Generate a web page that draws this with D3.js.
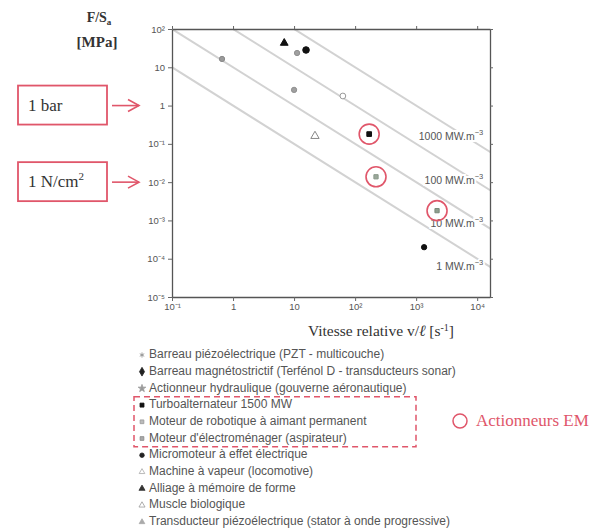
<!DOCTYPE html>
<html><head><meta charset="utf-8">
<script src="https://cdn.jsdelivr.net/npm/d3@7"></script>
<style>body{margin:0;background:#fff}svg{display:block}</style>
</head><body><svg id="c" width="602" height="529"></svg>
<script>
// ---- data ----
const categories = [
  "Barreau piézoélectrique (PZT - multicouche)",
  "Barreau magnétostrictif (Terfénol D - transducteurs sonar)",
  "Actionneur hydraulique (gouverne aéronautique)",
  "Turboalternateur 1500 MW",
  "Moteur de robotique à aimant permanent",
  "Moteur d'électroménager (aspirateur)",
  "Micromoteur à effet électrique",
  "Machine à vapeur (locomotive)",
  "Alliage à mémoire de forme",
  "Muscle biologique",
  "Transducteur piézoélectrique (stator à onde progressive)"
];
const speeds   = [0.66, 15.7, 11.2, 170, 220, 2200, 1350, 63, 6.9, 22, 10];
const stresses = [16.5, 28.3, 23.6, 0.18, 0.0138, 0.0018, 0.0002, 1.78, 43, 0.16, 2.57];
const emActuators = [3, 4, 5];
const powerLines = [1, 10, 100, 1000];
const powerLabels = ["1 MW.m", "10 MW.m", "100 MW.m", "1000 MW.m"];
const powerLabelSpeed = [12600, 12600, 12600, 12600];
const powerLabelStress = [6.2e-5, 8.1e-4, 0.0107, 0.15];
const xTicks = [0.1, 1, 10, 100, 1000, 10000];
const xTickLabels = ["10⁻¹", "1", "10", "10²", "10³", "10⁴"];
const yTicks = [100, 10, 1, 0.1, 0.01, 0.001, 1e-4, 1e-5];
const yTickLabels = ["10²", "10", "1", "10⁻¹", "10⁻²", "10⁻³", "10⁻⁴", "10⁻⁵"];
const yMarks = ["1 bar", "1 N/cm"];
const yMarkValues = [1, 0.01];

// ---- styles ----
const RED = "#e0566a";
const markerStyles = [
  {type: d3.symbolCircle, size: 22, fill: "#9a9a9a", stroke: "#8a8a8a"},
  {type: d3.symbolCircle, size: 34, fill: "#111", stroke: "#111"},
  {type: d3.symbolCircle, size: 22, fill: "#a0a0a0", stroke: "#909090"},
  {type: d3.symbolSquare, size: 22, fill: "#111", stroke: "#111"},
  {type: d3.symbolSquare, size: 18, fill: "#9aa79a", stroke: "#8a9a8a"},
  {type: d3.symbolSquare, size: 18, fill: "#8f9f8f", stroke: "#7a8a7a"},
  {type: d3.symbolCircle, size: 22, fill: "#111", stroke: "#111"},
  {type: d3.symbolCircle, size: 26, fill: "#fff", stroke: "#999"},
  {type: d3.symbolTriangle, size: 26, fill: "#111", stroke: "#111"},
  {type: d3.symbolTriangle, size: 30, fill: "#fff", stroke: "#888"},
  {type: d3.symbolCircle, size: 22, fill: "#a0a0a0", stroke: "#909090"}
];
const legendStyles = [
  {type: d3.symbolAsterisk, size: 18, fill: "none", stroke: "#888"},
  {type: d3.symbolDiamond, size: 22, fill: "#222", stroke: "#222"},
  {type: d3.symbolStar, size: 18, fill: "#999", stroke: "#999"},
  {type: d3.symbolSquare, size: 16, fill: "#111", stroke: "#111"},
  {type: d3.symbolSquare, size: 14, fill: "#bbb", stroke: "#999"},
  {type: d3.symbolSquare, size: 14, fill: "#aaa", stroke: "#888"},
  {type: d3.symbolCircle, size: 16, fill: "#222", stroke: "#222"},
  {type: d3.symbolTriangle, size: 14, fill: "#fff", stroke: "#aaa"},
  {type: d3.symbolTriangle, size: 16, fill: "#333", stroke: "#333"},
  {type: d3.symbolTriangle, size: 16, fill: "#fff", stroke: "#999"},
  {type: d3.symbolTriangle, size: 14, fill: "#aaa", stroke: "#aaa"}
];

const svg = d3.select("#c");
const L = 172, R = 490, T = 29, B = 297;
const x = d3.scaleLog().domain([0.1, Math.pow(10, 4.21)]).range([L, R]);
const y = d3.scaleLog().domain([1e-5, 100]).range([B, T]);

svg.append("defs").append("clipPath").attr("id", "clip")
  .append("rect").attr("x", L).attr("y", T).attr("width", R - L).attr("height", B - T);

// iso-power lines
const gl = svg.append("g").attr("clip-path", "url(#clip)");
powerLines.forEach(P => {
  const v0 = 0.01, v1 = 1e5;
  gl.append("line")
    .attr("x1", x(v0)).attr("y1", y(P / v0))
    .attr("x2", x(v1)).attr("y2", y(P / v1))
    .attr("stroke", "#d2d2d2").attr("stroke-width", 2);
});

// axes
function styleAxis(g) {
  g.selectAll("path.domain").attr("stroke", "#555").attr("stroke-width", 1.3);
  g.selectAll(".tick line").attr("stroke", "#666");
  g.selectAll(".tick text").attr("fill", "#555").style("font-family", "Liberation Sans, Arial, sans-serif").style("font-size", "9.5px");
}
svg.append("g").attr("transform", `translate(${L},0)`)
  .call(d3.axisLeft(y).tickValues(yTicks).tickFormat((d, i) => yTickLabels[i]).tickSize(4).tickSizeOuter(0).tickPadding(3))
  .call(styleAxis);
svg.append("g").attr("transform", `translate(0,${B})`)
  .call(d3.axisBottom(x).tickValues(xTicks).tickFormat((d, i) => xTickLabels[i]).tickSize(4).tickSizeOuter(0).tickPadding(2))
  .call(styleAxis);
svg.append("g").attr("transform", `translate(0,${T})`)
  .call(d3.axisTop(x).tickValues(xTicks).tickFormat("").tickSize(3).tickSizeOuter(0))
  .call(styleAxis);
svg.append("g").attr("transform", `translate(${R},0)`)
  .call(d3.axisRight(y).tickValues(yTicks).tickFormat("").tickSize(3).tickSizeOuter(0))
  .call(styleAxis);

// power labels
powerLabels.forEach((lab, i) => {
  const t = svg.append("text")
    .attr("x", x(powerLabelSpeed[i])).attr("y", y(powerLabelStress[i]))
    .attr("text-anchor", "end").attr("dominant-baseline", "middle")
    .attr("fill", "#555").attr("stroke", "#fff").attr("stroke-width", 4)
    .attr("paint-order", "stroke")
    .style("font-family", "Liberation Sans, Arial, sans-serif").style("font-size", "10.5px");
  t.append("tspan").text(lab);
  t.append("tspan").attr("dy", -4).style("font-size", "7.5px").text("−3");
});

// points
const sym = d3.symbol();
speeds.forEach((v, i) => {
  const s = markerStyles[i];
  svg.append("path")
    .attr("transform", `translate(${x(v)},${y(stresses[i])})`)
    .attr("d", sym.type(s.type).size(s.size)())
    .attr("fill", s.fill).attr("stroke", s.stroke).attr("stroke-width", 1);
});
emActuators.forEach(i => {
  svg.append("circle").attr("cx", x(speeds[i])).attr("cy", y(stresses[i])).attr("r", 10)
    .attr("fill", "none").attr("stroke", RED).attr("stroke-width", 1.6);
});

// y-axis title
const serif = "Liberation Serif, Times New Roman, serif";
const yt = svg.append("text").attr("x", 99).attr("y", 22).attr("text-anchor", "middle")
  .attr("fill", "#333").style("font-family", serif).style("font-size", "14px").style("font-weight", "bold");
yt.append("tspan").text("F/S");
yt.append("tspan").attr("dy", 3).style("font-size", "9px").text("a");
svg.append("text").attr("x", 97).attr("y", 47).attr("text-anchor", "middle")
  .attr("fill", "#333").style("font-family", serif).style("font-size", "15px").style("font-weight", "bold")
  .text("[MPa]");

// x-axis title
const xt = svg.append("text").attr("x", 381).attr("y", 336).attr("text-anchor", "middle")
  .attr("fill", "#333").style("font-family", serif).style("font-size", "15.5px");
xt.append("tspan").text("Vitesse relative v/");
xt.append("tspan").style("font-style", "italic").text("ℓ");
xt.append("tspan").text(" [s");
xt.append("tspan").attr("dy", -5).style("font-size", "10px").text("-1");
xt.append("tspan").attr("dy", 5).text("]");

// annotation boxes with arrows
yMarkValues.forEach((val, i) => {
  const cy = y(val);
  svg.append("rect").attr("x", 18).attr("y", cy - 20).attr("width", 89).attr("height", 39)
    .attr("fill", "#fff").attr("stroke", RED).attr("stroke-width", 1.8);
  const t = svg.append("text").attr("x", 28).attr("y", cy + 1).attr("dominant-baseline", "middle")
    .attr("fill", "#333").style("font-family", serif).style("font-size", "17px");
  t.append("tspan").text(yMarks[i]);
  if (i === 1) t.append("tspan").attr("dy", -6).style("font-size", "11px").text("2");
  svg.append("line").attr("x1", 112).attr("y1", cy).attr("x2", 139).attr("y2", cy)
    .attr("stroke", RED).attr("stroke-width", 1.6);
  svg.append("path").attr("d", `M128,${cy - 6}L139,${cy}L128,${cy + 6}`)
    .attr("fill", "none").attr("stroke", RED).attr("stroke-width", 1.6);
});

// legend
const ly0 = 355, ldy = 16.7;
categories.forEach((c, i) => {
  const yy = ly0 + i * ldy;
  const s = legendStyles[i];
  svg.append("path").attr("transform", `translate(142,${yy})`)
    .attr("d", sym.type(s.type).size(s.size)())
    .attr("fill", s.fill).attr("stroke", s.stroke).attr("stroke-width", 0.8);
  svg.append("text").attr("x", 149).attr("y", yy).attr("dominant-baseline", "middle")
    .attr("fill", "#555").style("font-family", "Liberation Sans, Arial, sans-serif").style("font-size", "12px")
    .text(c);
});
// dashed box for EM actuators
svg.append("rect").attr("x", 134).attr("y", ly0 + 2.5 * ldy).attr("width", 282).attr("height", 3 * ldy)
  .attr("fill", "none").attr("stroke", RED).attr("stroke-width", 1.5).attr("stroke-dasharray", "6,4");
svg.append("circle").attr("cx", 460).attr("cy", 421).attr("r", 7)
  .attr("fill", "none").attr("stroke", RED).attr("stroke-width", 1.5);
svg.append("text").attr("x", 476).attr("y", 422).attr("dominant-baseline", "middle")
  .attr("fill", RED).style("font-family", serif).style("font-size", "17px").text("Actionneurs EM");
</script></body></html>
